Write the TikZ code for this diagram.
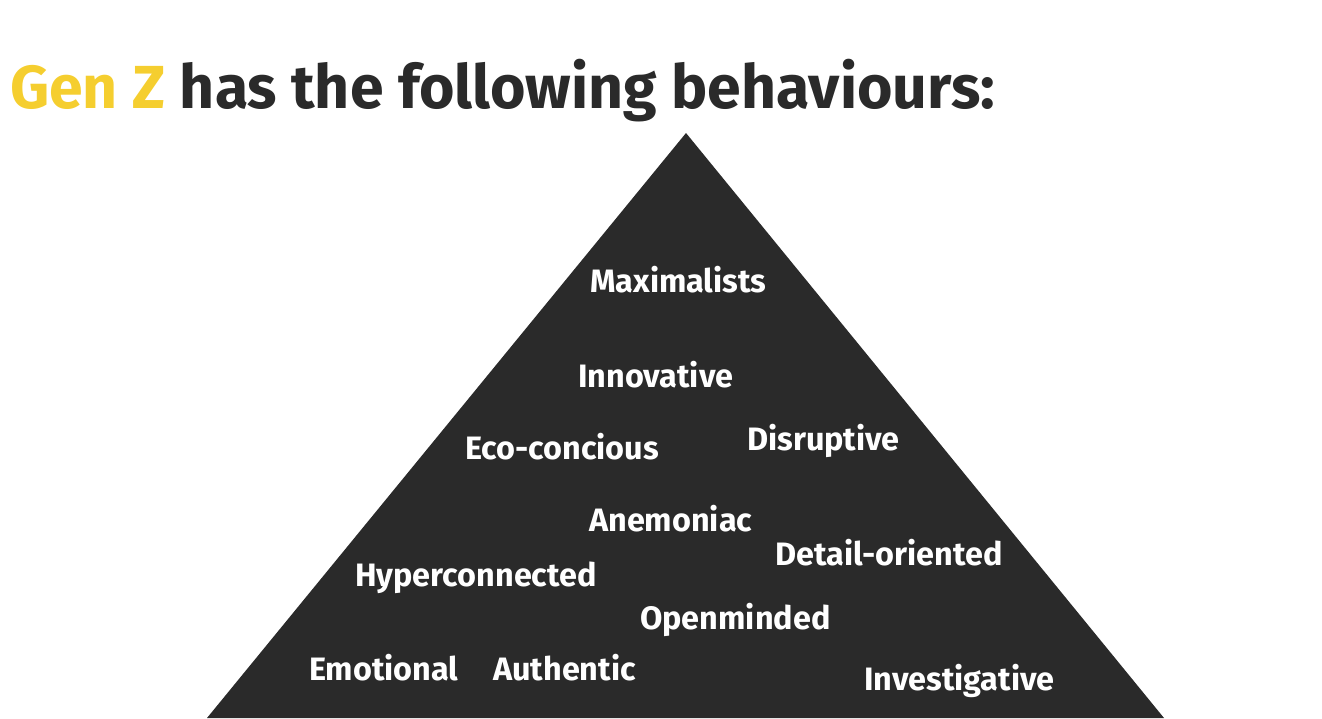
\documentclass[tikz,border=0pt]{standalone}
\usepackage{fontspec}
\setmainfont{Fira Sans}[BoldFont={Fira Sans Bold}]
\definecolor{pyr}{HTML}{2A2A2A}
\definecolor{genz}{HTML}{F5CE2F}
\begin{document}
\begin{tikzpicture}[x=1pt,y=-1pt,
  word/.style={text=white,font=\bfseries\fontsize{32.4}{32}\selectfont,anchor=base west,inner sep=0pt}]
\useasboundingbox (0,0) rectangle (1322,718);
\fill[pyr] (686,133) -- (1164,718) -- (207,718) -- cycle;
\node[anchor=base west,inner sep=0pt,text=pyr,font=\bfseries\fontsize{60.8}{61}\selectfont] (title) at (10,108) {\textcolor{genz}{Gen Z} has the following behaviours:};
\node[word] (maxi) at (590,292) {Maximalists};
\node[word] (inno) at (578,387) {Innovative};
\node[word] (eco) at (465,459) {Eco-concious};
\node[word] (dis) at (747,450) {Disruptive};
\node[word] (ane) at (589,531) {Anemoniac};
\node[word] (det) at (775,565) {Detail-oriented};
\node[word] (hyp) at (355,586) {Hyperconnected};
\node[word] (open) at (640,629) {Openminded};
\node[word] (emo) at (309,680) {Emotional};
\node[word] (auth) at (493,680) {Authentic};
\node[word] (inv) at (864,690) {Investigative};
\end{tikzpicture}
\end{document}
